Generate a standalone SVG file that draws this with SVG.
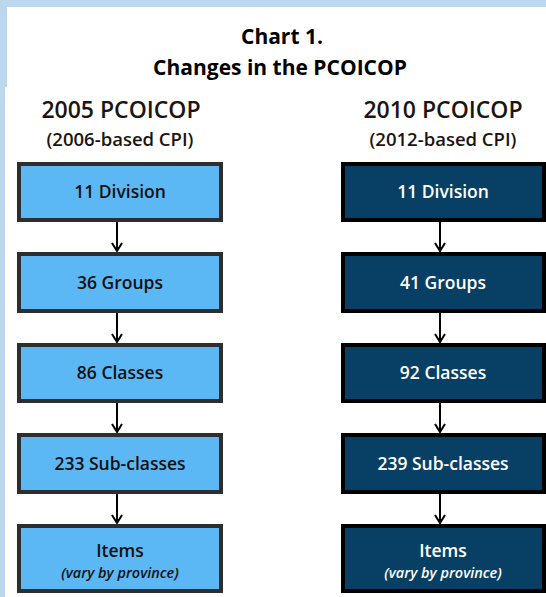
<svg xmlns="http://www.w3.org/2000/svg" width="546" height="597" viewBox="0 0 546 597">
  <style>
    .title { font-family: "Open Sans", "Liberation Sans", sans-serif; font-weight: 700; font-size: 21px; fill: #000; text-anchor: middle; }
    .head { font-family: "Open Sans", "Liberation Sans", sans-serif; font-weight: 600; font-size: 23px; fill: #1c1410; text-anchor: middle; }
    .sub { font-family: "Open Sans", "Liberation Sans", sans-serif; font-weight: 600; font-size: 18.5px; fill: #1c1410; text-anchor: middle; }
    .boxA { fill: #5bb8f5; stroke: #2e2e2e; stroke-width: 4; }
    .boxB { fill: #083f64; stroke: #000; stroke-width: 4; }
    .lblA { font-family: "Open Sans", "Liberation Sans", sans-serif; font-weight: 600; font-size: 17.5px; fill: #111; text-anchor: middle; }
    .lblB { font-family: "Open Sans", "Liberation Sans", sans-serif; font-weight: 600; font-size: 17.5px; fill: #fff; text-anchor: middle; }
    .noteA { font-family: "Open Sans", "Liberation Sans", sans-serif; font-style: italic; font-weight: 600; font-size: 14.5px; fill: #111; text-anchor: middle; }
    .noteB { font-family: "Open Sans", "Liberation Sans", sans-serif; font-style: italic; font-weight: 600; font-size: 14.5px; fill: #fff; text-anchor: middle; }
    .link { stroke: #000; stroke-width: 2; fill: none; }
  </style>
  <defs>
    <marker id="chev" viewBox="0 0 10 12" refX="9" refY="6" markerWidth="10" markerHeight="12" markerUnits="userSpaceOnUse" orient="auto">
      <path d="M1,1 L9,6 L1,11" fill="none" stroke="#000" stroke-width="2"/>
    </marker>
  </defs>

  <!-- page background and frame bands -->
  <rect x="0" y="0" width="546" height="597" fill="#fff"/>
  <rect x="0" y="0" width="546" height="7" fill="#bdd7ee"/>
  <rect x="0" y="0" width="7" height="87" fill="#bdd7ee"/>
  <rect x="0" y="87" width="5" height="510" fill="#bdd7ee"/>

  <!-- title -->
  <text class="title" x="282" y="44">Chart 1.</text>
  <text class="title" x="280" y="75">Changes in the PCOICOP</text>

  <!-- column headers -->
  <text class="head" x="121" y="118">2005 PCOICOP</text>
  <text class="sub" x="120" y="146">(2006-based CPI)</text>
  <text class="head" x="443" y="118">2010 PCOICOP</text>
  <text class="sub" x="443" y="146">(2012-based CPI)</text>

  <!-- connectors -->
  <g id="connectors">
    <line class="link" x1="117" y1="222" x2="117" y2="251" marker-end="url(#chev)"/>
    <line class="link" x1="117" y1="313" x2="117" y2="342" marker-end="url(#chev)"/>
    <line class="link" x1="117" y1="403" x2="117" y2="432" marker-end="url(#chev)"/>
    <line class="link" x1="117" y1="494" x2="117" y2="523" marker-end="url(#chev)"/>
    <line class="link" x1="440" y1="222" x2="440" y2="251" marker-end="url(#chev)"/>
    <line class="link" x1="440" y1="313" x2="440" y2="342" marker-end="url(#chev)"/>
    <line class="link" x1="440" y1="403" x2="440" y2="432" marker-end="url(#chev)"/>
    <line class="link" x1="440" y1="494" x2="440" y2="523" marker-end="url(#chev)"/>
  </g>

  <!-- 2005 column -->
  <g id="a-division">
    <rect class="boxA" x="19" y="164" width="202" height="56"/>
    <text class="lblA" x="120" y="198">11 Division</text>
  </g>
  <g id="a-groups">
    <rect class="boxA" x="19" y="254" width="202" height="57"/>
    <text class="lblA" x="120" y="289">36 Groups</text>
  </g>
  <g id="a-classes">
    <rect class="boxA" x="19" y="345" width="202" height="56"/>
    <text class="lblA" x="120" y="379">86 Classes</text>
  </g>
  <g id="a-subclasses">
    <rect class="boxA" x="19" y="435" width="202" height="57"/>
    <text class="lblA" x="120" y="470">233 Sub-classes</text>
  </g>
  <g id="a-items">
    <rect class="boxA" x="19" y="526" width="202" height="65"/>
    <text class="lblA" x="120" y="557">Items</text>
    <text class="noteA" x="120" y="578">(vary by province)</text>
  </g>

  <!-- 2010 column -->
  <g id="b-division">
    <rect class="boxB" x="343" y="164" width="201" height="56"/>
    <text class="lblB" x="443" y="198">11 Division</text>
  </g>
  <g id="b-groups">
    <rect class="boxB" x="343" y="254" width="201" height="57"/>
    <text class="lblB" x="443" y="289">41 Groups</text>
  </g>
  <g id="b-classes">
    <rect class="boxB" x="343" y="345" width="201" height="56"/>
    <text class="lblB" x="443" y="379">92 Classes</text>
  </g>
  <g id="b-subclasses">
    <rect class="boxB" x="343" y="435" width="201" height="57"/>
    <text class="lblB" x="443" y="470">239 Sub-classes</text>
  </g>
  <g id="b-items">
    <rect class="boxB" x="343" y="526" width="201" height="65"/>
    <text class="lblB" x="443" y="557">Items</text>
    <text class="noteB" x="443" y="578">(vary by province)</text>
  </g>
</svg>
